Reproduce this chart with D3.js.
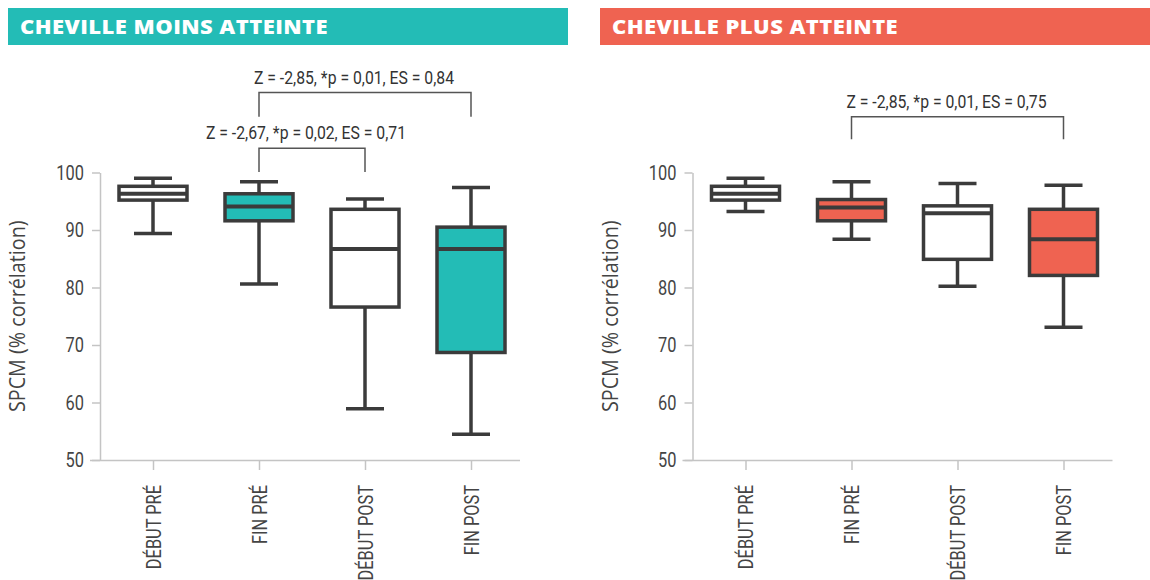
<!DOCTYPE html>
<html>
<head>
<meta charset="utf-8">
<script src="https://cdn.jsdelivr.net/npm/d3@7"></script>
<style>
  body { margin: 0; background: #fff; }
  svg { display: block; }
  .cond { font-family: Roboto, "Noto Sans", sans-serif; }
</style>
</head>
<body>
<svg id="chart" width="1150" height="580"></svg>
<script>
const categories = ['DÉBUT PRÉ', 'FIN PRÉ', 'DÉBUT POST', 'FIN POST'];
const yTicks = [50, 60, 70, 80, 90, 100];

// cheville moins atteinte
const moinsMin = [89.4, 80.6, 58.9, 54.5];
const moinsQ1  = [95.2, 91.6, 76.6, 68.7];
const moinsMed = [96.3, 94.1, 86.7, 86.7];
const moinsQ3  = [97.6, 96.3, 93.6, 90.5];
const moinsMax = [99.0, 98.4, 95.4, 97.4];

// cheville plus atteinte
const plusMin = [93.2, 88.4, 80.2, 73.1];
const plusQ1  = [95.2, 91.6, 84.9, 82.1];
const plusMed = [96.3, 93.9, 92.9, 88.4];
const plusQ3  = [97.6, 95.3, 94.2, 93.6];
const plusMax = [99.0, 98.4, 98.1, 97.8];

const moinsStats = [
  { from: 'FIN PRÉ', to: 'FIN POST', top: 113.9, foot: 109.7, label: 'Z = -2,85, *p = 0,01, ES = 0,84', dx: -11 },
  { from: 'FIN PRÉ', to: 'DÉBUT POST', top: 104.2, foot: 100.1, label: 'Z = -2,67, *p = 0,02, ES = 0,71', dx: -6 }
];
const plusStats = [
  { from: 'FIN PRÉ', to: 'FIN POST', top: 109.7, foot: 105.8, label: 'Z = -2,85, *p = 0,01, ES = 0,75', dx: -11 }
];

const TEAL = '#23bcb6', CORAL = '#ef6351', INK = '#3b3b3b', AXIS = '#c4c4c4';

const svg = d3.select('#chart');
const y = d3.scaleLinear().domain([50, 100]).range([460, 172.5]);

// squeeze text horizontally to mimic the condensed face of the original
function condense(sel, f) {
  sel.each(function () {
    const len = this.getComputedTextLength();
    d3.select(this).attr('textLength', len * f).attr('lengthAdjust', 'spacingAndGlyphs');
  });
}

function panel(opt) {
  const g = svg.append('g');

  // header band
  g.append('rect').attr('x', opt.bandX).attr('y', 8).attr('width', opt.bandW).attr('height', 37)
    .attr('fill', opt.color);
  g.append('text').attr('x', opt.bandX + 12).attr('y', 34)
    .attr('fill', '#fff').attr('font-family', 'Open Sans, sans-serif')
    .attr('font-weight', 800).attr('font-size', 20).attr('letter-spacing', 0.4)
    .text(opt.title)
    .call(condense, 1.1);

  const x = d3.scalePoint().domain(categories).range([opt.x0, opt.x0 + 424]).padding(0.5);

  // y axis
  const ya = g.append('g').attr('transform', `translate(${opt.x0},0)`)
    .call(d3.axisLeft(y).tickValues(yTicks).tickSize(8).tickSizeOuter(0).tickPadding(8));
  ya.selectAll('path, line').attr('stroke', AXIS).attr('stroke-width', 1.5);
  ya.selectAll('text').attr('class', 'cond').attr('font-size', 20.5).attr('fill', '#444')
    .call(condense, 0.8);

  // x axis
  const xa = g.append('g').attr('transform', `translate(0,${y(50)})`)
    .call(d3.axisBottom(x).tickSize(10).tickSizeOuter(0));
  xa.select('.domain').attr('d', `M${opt.x0 - 10},0.5H${opt.x0 + 420}`);
  xa.selectAll('path, line').attr('stroke', AXIS).attr('stroke-width', 1.5);
  xa.selectAll('text').attr('class', 'cond').attr('font-size', 21).attr('fill', '#444')
    .attr('transform', 'rotate(-90)').attr('text-anchor', 'end')
    .attr('x', -25).attr('y', 0).attr('dy', '0.35em')
    .call(condense, 0.78);

  // y axis title
  g.append('text')
    .attr('transform', `translate(${opt.x0 - 75},${(y(50) + y(100)) / 2}) rotate(-90)`)
    .attr('text-anchor', 'middle').attr('font-family', 'Open Sans, sans-serif')
    .attr('font-size', 21).attr('fill', '#444')
    .text('SPCM (% corrélation)')
    .call(condense, 0.94);

  // boxes
  const boxes = categories.map((c, i) => ({
    c, min: opt.min[i], q1: opt.q1[i], med: opt.med[i], q3: opt.q3[i], max: opt.max[i],
    fill: i % 2 ? opt.color : '#fff'
  }));
  const bw = 68, cw = 38;
  const bg = g.selectAll('g.box').data(boxes).join('g').attr('class', 'box');
  bg.append('line').attr('x1', d => x(d.c)).attr('x2', d => x(d.c))
    .attr('y1', d => y(d.max)).attr('y2', d => y(d.min))
    .attr('stroke', INK).attr('stroke-width', 3.5);
  bg.append('line').attr('x1', d => x(d.c) - cw / 2).attr('x2', d => x(d.c) + cw / 2)
    .attr('y1', d => y(d.max)).attr('y2', d => y(d.max))
    .attr('stroke', INK).attr('stroke-width', 3.5);
  bg.append('line').attr('x1', d => x(d.c) - cw / 2).attr('x2', d => x(d.c) + cw / 2)
    .attr('y1', d => y(d.min)).attr('y2', d => y(d.min))
    .attr('stroke', INK).attr('stroke-width', 3.5);
  bg.append('rect').attr('x', d => x(d.c) - bw / 2).attr('width', bw)
    .attr('y', d => y(d.q3)).attr('height', d => y(d.q1) - y(d.q3))
    .attr('fill', d => d.fill).attr('stroke', INK).attr('stroke-width', 3.5);
  bg.append('line').attr('x1', d => x(d.c) - bw / 2).attr('x2', d => x(d.c) + bw / 2)
    .attr('y1', d => y(d.med)).attr('y2', d => y(d.med))
    .attr('stroke', INK).attr('stroke-width', 4);

  // significance brackets
  opt.stats.forEach(s => {
    const xa0 = x(s.from), xa1 = x(s.to);
    g.append('path')
      .attr('d', `M${xa0},${y(s.foot)}V${y(s.top)}H${xa1}V${y(s.foot)}`)
      .attr('fill', 'none').attr('stroke', '#555').attr('stroke-width', 1.5);
    g.append('text').attr('class', 'cond')
      .attr('x', (xa0 + xa1) / 2 + s.dx).attr('y', y(s.top) - 9)
      .attr('text-anchor', 'middle').attr('font-size', 17.5).attr('fill', '#333')
      .text(s.label)
      .call(condense, 0.9);
  });
}

panel({ title: 'CHEVILLE MOINS ATTEINTE', color: TEAL, bandX: 8, bandW: 560, x0: 100,
  min: moinsMin, q1: moinsQ1, med: moinsMed, q3: moinsQ3, max: moinsMax, stats: moinsStats });
panel({ title: 'CHEVILLE PLUS ATTEINTE', color: CORAL, bandX: 600, bandW: 550, x0: 692.5,
  min: plusMin, q1: plusQ1, med: plusMed, q3: plusQ3, max: plusMax, stats: plusStats });
</script>
</body>
</html>
